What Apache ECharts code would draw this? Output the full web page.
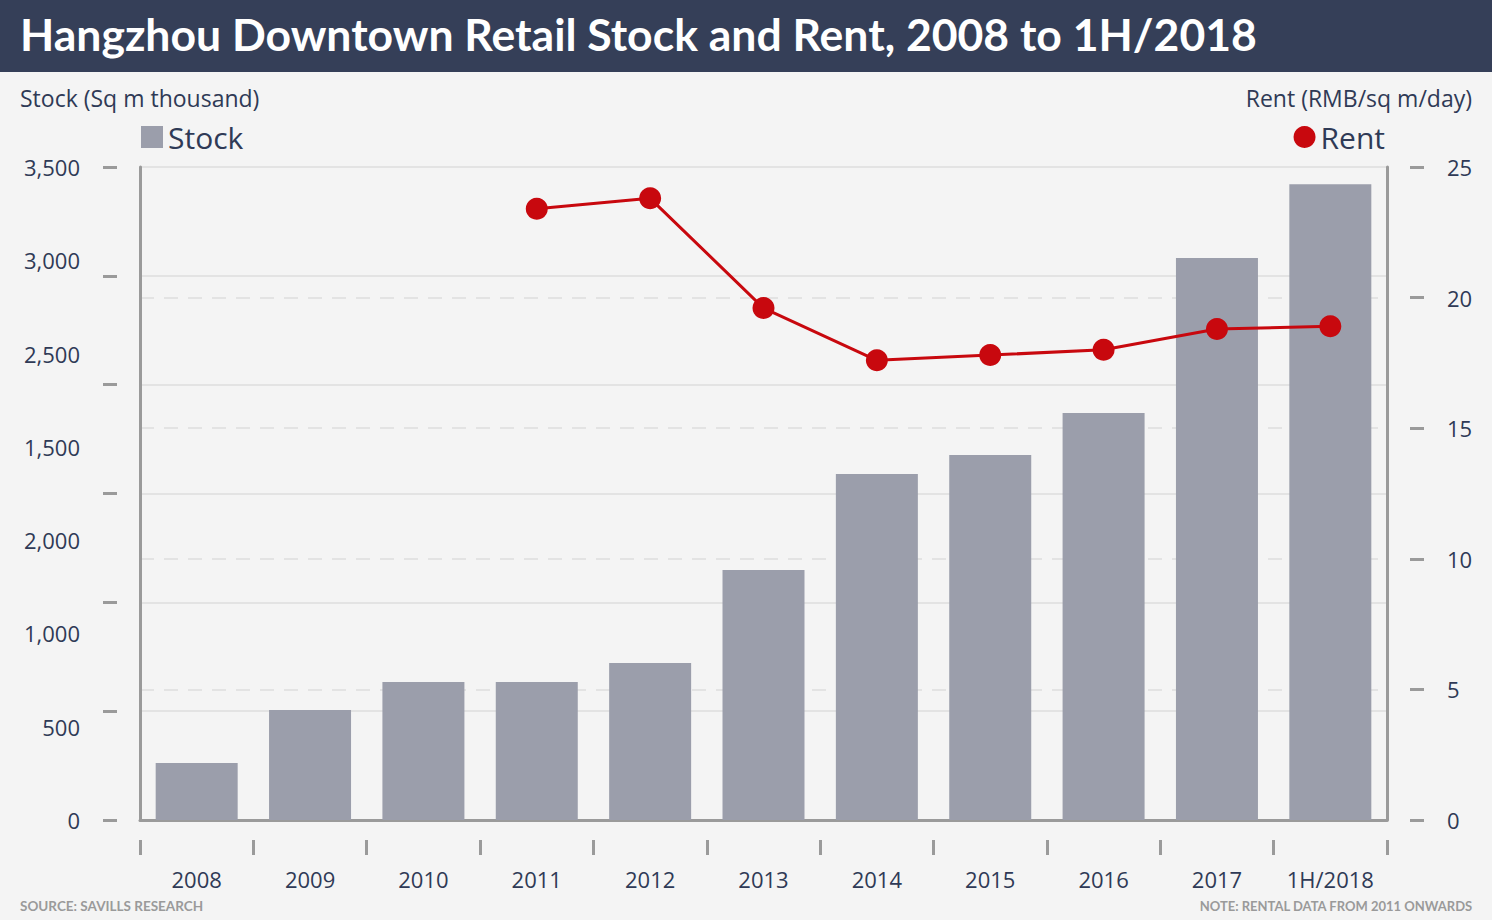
<!DOCTYPE html>
<html>
<head>
<meta charset="utf-8">
<script src="https://cdn.jsdelivr.net/npm/echarts@6/dist/echarts.min.js"></script>
<style>
html,body{margin:0;padding:0;background:#f4f4f4;}
#c{width:1492px;height:920px;}
</style>
</head>
<body>
<div id="c"></div>
<script>
const categories = ['2008','2009','2010','2011','2012','2013','2014','2015','2016','2017','1H/2018'];
const stockValues = [305, 590, 740, 740, 841, 1340, 1854, 1956, 2181, 3012, 3408];
const rentValues = [null, null, null, 23.4, 23.8, 19.6, 17.6, 17.8, 18.0, 18.8, 18.9];
// left axis tick labels as printed, from bottom (0) to top (3,500)
const leftTickLabels = ['0','500','1,000','2,000','1,500','2,500','3,000','3,500'];
const rightTickLabels = ['0','5','10','15','20','25'];

const FONT = '"Open Sans", Lato, sans-serif';
const TFONT = 'Lato, "Open Sans", sans-serif';
const NAVY = '#2f3a56';
const AXIS = '#9a9a9a';

const chart = echarts.init(document.getElementById('c'), null, {renderer:'svg'});
chart.setOption({
  backgroundColor:'#f4f4f4',
  animation:false,
  textStyle:{fontFamily:FONT},
  graphic:[
    {type:'rect', left:0, top:0, shape:{width:1492, height:72}, style:{fill:'#353f58'}, z:0},
    {type:'text', left:20, top:11, style:{text:'Hangzhou Downtown Retail Stock and Rent, 2008 to 1H/2018', fill:'#ffffff', font:'bold 44.5px ' + TFONT}},
    {type:'text', left:20, top:86, style:{text:'Stock (Sq m thousand)', fill:NAVY, font:'23px ' + FONT}},
    {type:'text', right:20, top:86, style:{text:'Rent (RMB/sq m/day)', fill:NAVY, font:'23px ' + FONT, textAlign:'right'}},
    {type:'text', left:20, top:899, style:{text:'SOURCE: SAVILLS RESEARCH', fill:'#9a9a9a', font:'bold 13.5px ' + TFONT}},
    {type:'text', right:19, top:899, style:{text:'NOTE: RENTAL DATA FROM 2011 ONWARDS', fill:'#9a9a9a', font:'bold 13px ' + TFONT}}
  ],
  legend:[
    {data:['Stock'], left:136, top:117, icon:'rect', itemWidth:22, itemHeight:22, itemGap:8,
     textStyle:{fontSize:30, color:NAVY, fontFamily:FONT}},
    {data:['Rent'], right:102, top:117, icon:'circle', itemWidth:22, itemHeight:22, itemGap:8,
     textStyle:{fontSize:30, color:NAVY, fontFamily:FONT}}
  ],
  grid:[
    {left:140, right:105, top:167, bottom:100},
    {left:140, right:105, top:167, bottom:80, show:false}
  ],
  xAxis:[
    {type:'category', data:categories, position:'bottom', gridIndex:0,
     axisLine:{show:true, lineStyle:{color:AXIS, width:3}},
     axisTick:{show:false},
     axisLabel:{interval:0, margin:48, fontSize:22, color:NAVY, fontFamily:FONT}},
    {type:'category', data:categories, position:'bottom', gridIndex:1,
     axisLine:{show:false},
     axisTick:{show:true, interval:0, length:15, lineStyle:{color:AXIS, width:3}},
     axisLabel:{show:false}, splitLine:{show:false}}
  ],
  yAxis:[
    {type:'value', position:'left', min:0, max:3500, interval:3500/6, gridIndex:0,
     axisLine:{show:true, lineStyle:{color:AXIS, width:3}},
     axisTick:{show:false}, axisLabel:{show:false},
     splitLine:{show:true, lineStyle:{color:'#e3e3e3', width:2}}},
    {type:'value', position:'left', offset:23, min:0, max:3500, interval:3500/6, gridIndex:0,
     axisLine:{show:false},
     axisTick:{show:true, length:14, lineStyle:{color:AXIS, width:3}},
     axisLabel:{show:false}, splitLine:{show:false}},
    {type:'value', position:'left', min:0, max:3500, interval:500, gridIndex:0,
     axisLine:{show:false}, axisTick:{show:false}, splitLine:{show:false},
     axisLabel:{margin:60, fontSize:22, color:NAVY, fontFamily:FONT,
       formatter:function(v){ return leftTickLabels[Math.round(v/500)]; }}},
    {type:'value', position:'right', min:0, max:25, interval:5, gridIndex:0,
     axisLine:{show:true, lineStyle:{color:AXIS, width:3}},
     axisTick:{show:false},
     axisLabel:{margin:60, fontSize:22, color:NAVY, fontFamily:FONT, align:'left',
       formatter:function(v){ return rightTickLabels[Math.round(v/5)]; }},
     splitLine:{show:true, lineStyle:{color:'#e3e3e3', width:2, type:[14,10]}}},
    {type:'value', position:'right', offset:23, min:0, max:25, interval:5, gridIndex:0,
     axisLine:{show:false},
     axisTick:{show:true, length:14, lineStyle:{color:AXIS, width:3}},
     axisLabel:{show:false}, splitLine:{show:false}},
    {type:'value', gridIndex:1, show:false, min:0, max:1}
  ],
  series:[
    {name:'Stock', type:'bar', data:stockValues, xAxisIndex:0, yAxisIndex:0,
     barWidth:82, itemStyle:{color:'#9b9eab'}, z:2},
    {name:'Rent', type:'line', data:rentValues, xAxisIndex:0, yAxisIndex:3,
     symbol:'circle', symbolSize:22, showSymbol:true,
     lineStyle:{color:'#c8080e', width:3}, itemStyle:{color:'#c8080e'}, z:5}
  ]
});
</script>
</body>
</html>
